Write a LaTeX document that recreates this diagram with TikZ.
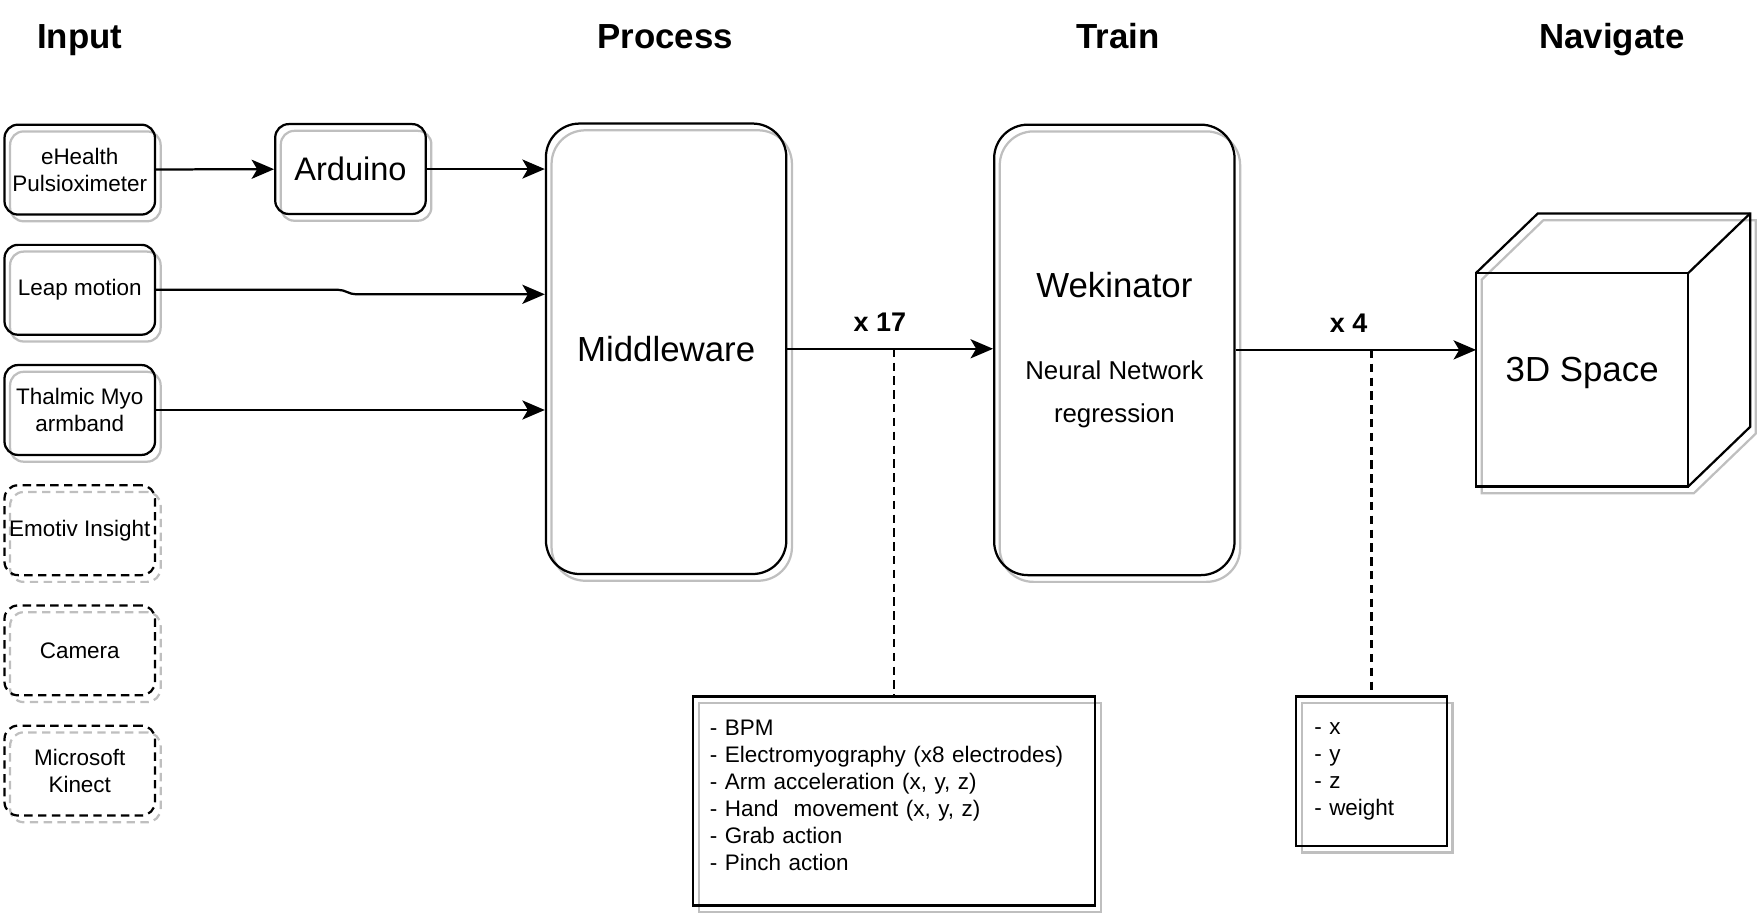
\documentclass[tikz,border=0pt]{standalone}
\usepackage{fontspec}
\setmainfont{Liberation Sans}
\usepackage{tikz}
\usetikzlibrary{positioning,calc,arrows.meta,shadows}

\begin{document}
\begin{tikzpicture}[x=0.5pt, y=-0.5pt, line width=1pt,
    arr/.style={-{Stealth[length=10pt, width=8.5pt, inset=2.5pt]}},
    dashline/.style={dash pattern=on 3.75pt off 2.4pt},
    ghost/.style={general shadow={shadow xshift=2.5pt, shadow yshift=-3pt, draw=black!25, fill=none, #1}},
    ghost/.default={},
    heading/.style={font=\bfseries\fontsize{15.5}{18}\selectfont, anchor=base},
    boxbase/.style={draw, rounded corners=6pt, minimum width=67pt, minimum height=40pt, inner sep=1pt, align=center, font=\fontsize{10}{12}\selectfont},
    srcbox/.style={boxbase, ghost},
    optbox/.style={boxbase, dashline, ghost=dashline},
    bigbox/.style={draw, rounded corners=15pt, minimum width=107pt, minimum height=200.5pt, font=\fontsize{15.5}{18}\selectfont, ghost},
    listbox/.style={draw, align=left, font=\fontsize{10}{12}\selectfont, ghost}]
    \useasboundingbox (0,0) rectangle (1565,822);

    % Column headings
    \node[heading] (hinput) at (71,43) {Input};
    \node[heading] (hprocess) at (592,43) {Process};
    \node[heading] (htrain) at (995,43) {Train};
    \node[heading] (hnavigate) at (1435,43) {Navigate};

    % Sensors
    \node[srcbox] (pulse) at (71,151) {eHealth\\Pulsioximeter};
    \node[srcbox] (leap) at (71,258) {Leap motion};
    \node[srcbox] (myo) at (71,365) {Thalmic Myo\\armband};
    \node[optbox] (emotiv) at (71,472) {Emotiv Insight};
    \node[optbox] (camera) at (71,579) {Camera};
    \node[optbox] (kinect) at (71,686) {Microsoft\\Kinect};
    \node[srcbox, font=\fontsize{14.5}{17}\selectfont] (ard) at (312,150.5) {Arduino};

    % Middleware and Wekinator
    \node[bigbox] (mw) at (593,310.5) {Middleware};
    \node[bigbox] (wek) at (992,311.5) {};
    \node[font=\fontsize{15.5}{18}\selectfont] (wekname) at ($(wek.center)+(0,-57.5)$) {Wekinator};
    \node[align=center, font=\fontsize{11.5}{19}\selectfont] (wekalgo) at ($(wek.center)+(0,39.5)$) {Neural Network\\regression};

    % 3D space cube
    \node[minimum width=93.5pt, minimum height=94pt, inner sep=0pt] (space) at (1408.5,338) {};
    \draw[black!25, transform canvas={shift={(2.5pt,-3pt)}}] (space.north west) -- ++(55,-53) -| ($(space.south east)+(55,-53)$)
        -- (space.south east) -- (space.south west) -- cycle;
    \draw (space.north west) rectangle (space.south east);
    \draw (space.north west) -- ++(55,-53) -| ($(space.south east)+(55,-53)$) -- (space.south east);
    \draw (space.north east) -- ++(55,-53);
    \node[font=\fontsize{15.5}{18}\selectfont] (spacename) at ($(space.center)+(0,-6)$) {3D Space};

    % Feature lists
    \node[listbox, minimum width=179pt, minimum height=93pt, text width=164pt, inner xsep=7.5pt] (feats) at (796,713)
        {- BPM\\- Electromyography (x8 electrodes)\\- Arm acceleration (x, y, z)\\- Hand~ movement (x, y, z)\\- Grab action\\- Pinch action\rule[-5pt]{0pt}{5pt}};
    \node[listbox, minimum width=67pt, minimum height=66.5pt, text width=51pt, inner xsep=8pt] (outs) at (1221,686.5)
        {- x\\- y\\- z\\- weight};

    % Connections
    \draw[arr] (pulse) -- (ard);
    \draw[arr] (ard.east) -- (ard.east -| mw.west);
    \draw[arr] (leap.east) -- ++(162,0) to[out=0, in=180] ++(16,4) coordinate (leapjog) -- (leapjog -| mw.west);
    \draw[arr] (myo.east) -- (myo.east -| mw.west);
    \draw[arr] (mw.east) -- node[pos=0.45, above=4pt, font=\bfseries\fontsize{12}{14}\selectfont] (n17) {x 17} (mw.east -| wek.west);
    \draw[arr] (wek.east) -- node[pos=0.47, above=4pt, font=\bfseries\fontsize{12}{14}\selectfont] (n4) {x 4} (wek.east -| space.west);
    \draw[dashline] (feats.north |- mw.east) -- (feats.north);
    \draw[dashline] (outs.north |- wek.east) -- (outs.north);
\end{tikzpicture}
\end{document}
